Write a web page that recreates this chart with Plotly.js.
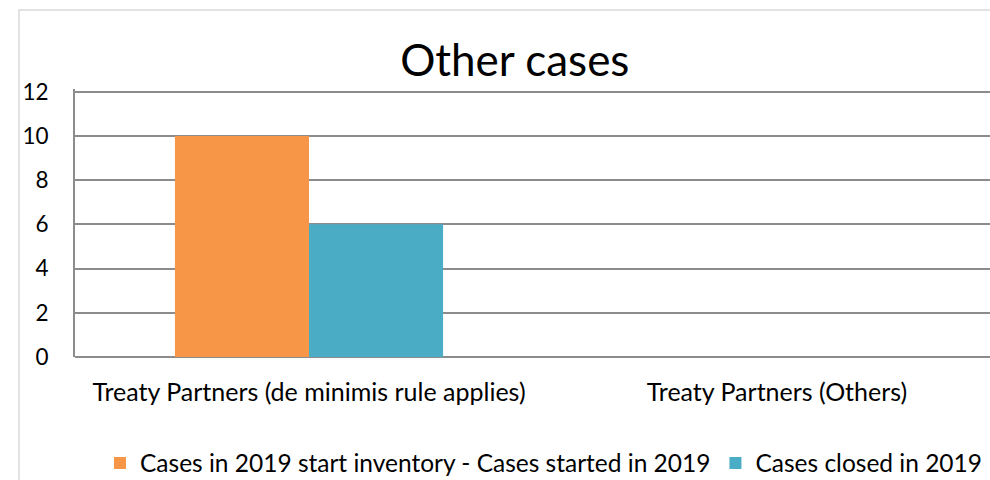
<!DOCTYPE html>
<html>
<head>
<meta charset="utf-8">
<script src="https://cdn.plot.ly/plotly-3.0.1.min.js"></script>
<style>
  html, body { margin: 0; padding: 0; background: #fff; overflow: hidden; }
  #chart { width: 990px; height: 480px; }
</style>
</head>
<body>
<div id="chart"></div>
<script>
const categories = ["Treaty Partners (de minimis rule applies)", "Treaty Partners (Others)"];
const seriesNames = ["Cases in 2019 start inventory - Cases started in 2019", "Cases closed in 2019"];
const startedValues = [10, 0];
const closedValues = [6, 0];
const yTicks = [0, 2, 4, 6, 8, 10, 12];

const FONT = "Lato, 'Open Sans', sans-serif";

const traces = [
  { type: "bar", name: seriesNames[0], x: categories, y: startedValues,
    marker: { color: "#F79646" }, hoverinfo: "x+y" },
  { type: "bar", name: seriesNames[1], x: categories, y: closedValues,
    marker: { color: "#4BACC6" }, hoverinfo: "x+y" }
];

const pxPerUnit = 265 / 12;
const yPad = 0.12;
const yMax = 12 + yPad;
const plotTop = Math.round(92 - yPad * pxPerUnit);
const plotH = 357 - plotTop;

const layout = {
  width: 990, height: 480,
  margin: { l: 75, r: 0, t: plotTop, b: 123, pad: 0, autoexpand: false },
  paper_bgcolor: "#ffffff", plot_bgcolor: "#ffffff",
  font: { family: FONT, color: "#000000", size: 24 },
  title: { text: "Other cases", font: { family: FONT, size: 44, color: "#000000" },
           xref: "container", x: 0.52, xanchor: "center",
           yref: "container", y: 1 - 61 / 480, yanchor: "middle" },
  barmode: "group", bargap: 0.427, bargroupgap: 0,
  xaxis: {
    type: "category", range: [-0.5, -0.5 + 915 / 468], automargin: false,
    showgrid: false, zeroline: false, showline: false, ticks: "",
    ticklabelstandoff: 18,
    tickfont: { family: FONT, size: 25, color: "#000000" }
  },
  yaxis: {
    range: [0, yMax], tickvals: yTicks, ticktext: yTicks.map(String), automargin: false,
    showgrid: true, gridcolor: "#8c8c8c", gridwidth: 2,
    zeroline: true, zerolinecolor: "#8c8c8c", zerolinewidth: 2,
    showline: true, linecolor: "#8c8c8c", linewidth: 2,
    ticks: "", ticklabelstandoff: 20,
    tickfont: { family: FONT, size: 22.5, color: "#000000" }
  },
  showlegend: true,
  legend: {
    orientation: "h", x: 0.512, xanchor: "center",
    yref: "container", y: 1 - 463 / 480, yanchor: "middle",
    font: { family: FONT, size: 24.5, color: "#000000" },
    itemclick: false, itemdoubleclick: false, traceorder: "normal"
  },
  shapes: [{
    type: "rect", xref: "paper", yref: "paper",
    x0: (19 - 75) / 915, x1: 1.2, y0: -1.0, y1: (357 - 10) / plotH,
    line: { color: "#d9d9d9", width: 1.5 }, fillcolor: "rgba(0,0,0,0)", layer: "below"
  }]
};

Plotly.newPlot("chart", traces, layout, { displayModeBar: false, staticPlot: true });
</script>
</body>
</html>
